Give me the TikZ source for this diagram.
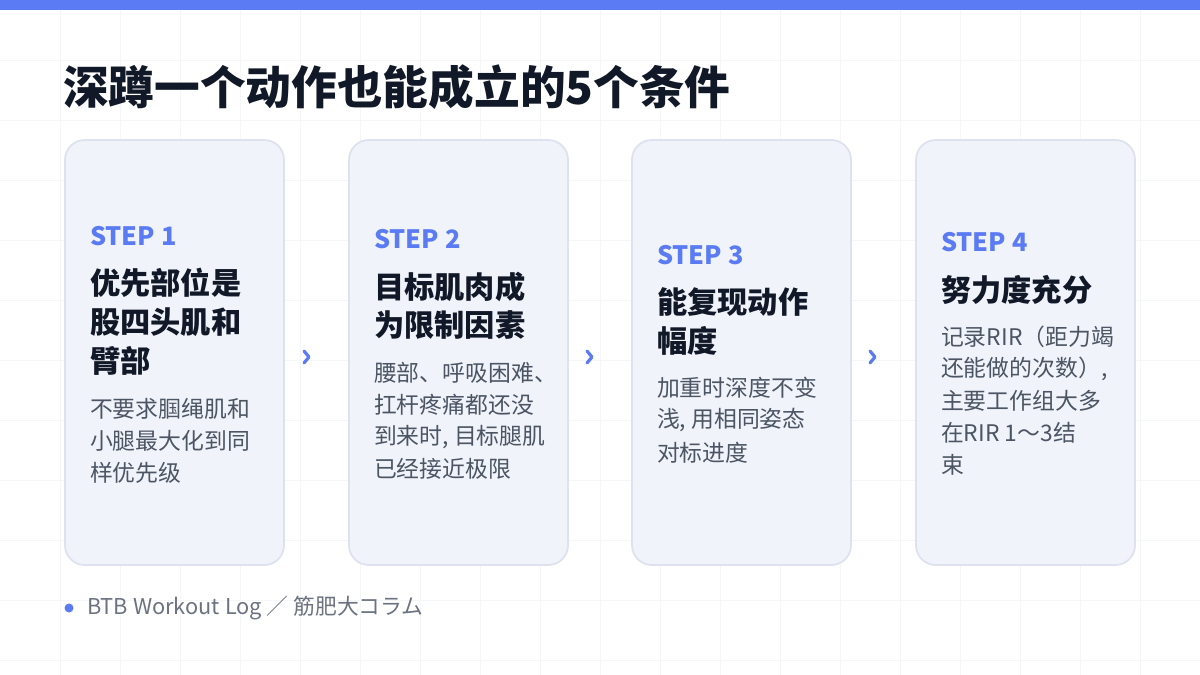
\documentclass[tikz,border=0pt]{standalone}
\usepackage{fontspec}
\setmainfont{Noto Sans CJK SC}
\usetikzlibrary{positioning}
\definecolor{accent}{HTML}{5B7BF5}
\definecolor{cardbg}{HTML}{F1F3FA}
\definecolor{cardline}{HTML}{DDE2EE}
\definecolor{ink}{HTML}{111827}
\definecolor{body}{HTML}{4B5563}
\definecolor{muted}{HTML}{6B7280}
\definecolor{gridc}{HTML}{F5F6F8}
\tikzset{
  card/.style={fill=cardbg, draw=cardline, line width=2.5pt, rounded corners=28pt},
  steplabel/.style={anchor=west, inner sep=0pt, text=accent, font=\fontsize{36}{40}\selectfont\bfseries},
  ctitle/.style={anchor=west, inner sep=0pt, text=ink, font=\fontsize{43}{48}\selectfont\bfseries},
  cbody/.style={anchor=west, inner sep=0pt, text=body, font=\fontsize{32.5}{36}\selectfont},
  chev/.style={draw=accent, line width=4.5pt, line cap=round, line join=round}
}
\begin{document}
\begin{tikzpicture}[x=0.05cm, y=-0.05cm]
  \useasboundingbox (0,0) rectangle (1200,675);
  % grid
  \foreach \x in {60,120,...,1140} \draw[gridc, line width=1pt] (\x,10) -- (\x,675);
  \foreach \y in {60,120,...,660} \draw[gridc, line width=1pt] (0,\y) -- (1200,\y);
  \fill[accent] (0,0) rectangle (1200,10);
  % title
  \node[anchor=west, inner sep=0pt, text=ink, font=\fontsize{65}{70}\selectfont\bfseries] (title) at (63,87) {深蹲一个动作也能成立的5个条件};
  % cards
  \foreach \x/\n in {65/a,349/b,632/c,916/d}
    \draw[card] (\x,140) rectangle (\x+219,565);
  % step 1
  \node[steplabel] (s1) at (90,236) {STEP 1};
  \foreach \t/\y in {优先部位是/283,股四头肌和/322,臂部/361}
    \node[ctitle] at (90,\y) {\t};
  \foreach \t/\y in {不要求腘绳肌和/409,小腿最大化到同/441,样优先级/473}
    \node[cbody] at (90,\y) {\t};
  % step 2
  \node[steplabel] (s2) at (374,239) {STEP 2};
  \foreach \t/\y in {目标肌肉成/287,为限制因素/325}
    \node[ctitle] at (374,\y) {\t};
  \foreach \t/\y in {腰部、呼吸困难、/373,扛杆疼痛都还没/405,{到来时, 目标腿肌}/437,已经接近极限/469}
    \node[cbody] at (374,\y) {\t};
  % step 3
  \node[steplabel] (s3) at (657,255) {STEP 3};
  \foreach \t/\y in {能复现动作/302,幅度/341}
    \node[ctitle] at (657,\y) {\t};
  \foreach \t/\y in {加重时深度不变/388,{浅, 用相同姿态}/420,对标进度/453}
    \node[cbody] at (657,\y) {\t};
  % step 4
  \node[steplabel] (s4) at (941,242) {STEP 4};
  \node[ctitle] at (941,290) {努力度充分};
  \foreach \t/\y in {记录RIR（距力竭/337,{还能做的次数）,}/369,主要工作组大多/401,在RIR 1～3结/433,束/465}
    \node[cbody] at (941,\y) {\t};
  % chevrons
  \foreach \x in {304,587,870}
    \draw[chev] (\x,351) -- (\x+5,357) -- (\x,363);
  % footer
  \fill[accent] (69,608) circle (4.5);
  \node[anchor=west, inner sep=0pt, text=muted, font=\fontsize{31}{34}\selectfont] (foot) at (87,608) {BTB Workout Log ／ 筋肥大コラム};
\end{tikzpicture}
\end{document}
